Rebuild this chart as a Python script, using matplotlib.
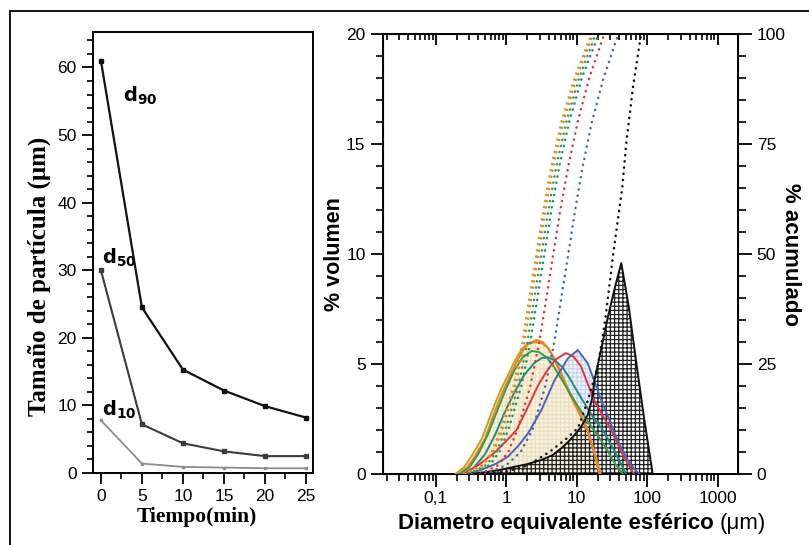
import matplotlib
matplotlib.use("Agg")
import matplotlib.pyplot as plt
from matplotlib.patches import Rectangle
from matplotlib.ticker import FixedLocator, FixedFormatter, MultipleLocator, LogLocator, NullFormatter

plt.rcParams['font.family'] = ['Liberation Sans', 'DejaVu Sans']
plt.rcParams['mathtext.fontset'] = 'custom'
plt.rcParams['mathtext.bf'] = 'DejaVu Sans:bold'
plt.rcParams['mathtext.rm'] = 'DejaVu Sans'
plt.rcParams['hatch.linewidth'] = 0.9

# ---------------- Left panel data ----------------
tiempo = [0, 5, 10, 15, 20, 25]
d90 = [61.0, 24.5, 15.3, 12.2, 9.9, 8.2]
d50 = [30.0, 7.2, 4.4, 3.2, 2.5, 2.5]
d10 = [7.8, 1.4, 0.9, 0.8, 0.7, 0.7]

# ---------------- Right panel data: distributions (% volumen) ----------------
gold_x = [0.19, 0.25, 0.32, 0.45, 0.62, 0.8, 1.06, 1.3, 1.64, 2.0, 2.6, 3.2, 3.9, 5.0, 6.05, 7.5, 9.3, 11.5, 14.4, 17.5, 22]
gold_y = [0, 0.3, 0.8, 1.6, 2.8, 3.7, 4.5, 5.1, 5.65, 5.92, 6.0, 5.95, 5.75, 5.2, 4.6, 3.9, 3.3, 2.7, 2.0, 1.1, 0]
orange_x = [0.21, 0.28, 0.36, 0.5, 0.68, 0.88, 1.15, 1.4, 1.75, 2.1, 2.7, 3.3, 4.0, 5.0, 6.05, 7.5, 9.3, 11.5, 14.4, 17.5, 21]
orange_y = [0, 0.3, 0.8, 1.6, 2.8, 3.7, 4.5, 5.1, 5.65, 5.95, 6.1, 6.0, 5.7, 5.1, 4.5, 3.8, 3.2, 2.6, 1.9, 1.0, 0]
green_x = [0.22, 0.3, 0.4, 0.55, 0.75, 1.0, 1.3, 1.7, 2.3, 2.9, 3.6, 4.5, 5.6, 7.0, 9.0, 11.6, 15, 20, 26, 33, 45]
green_y = [0, 0.3, 0.9, 1.8, 2.9, 3.9, 4.7, 5.3, 5.6, 5.55, 5.35, 5.0, 4.5, 4.0, 3.4, 2.85, 2.3, 1.75, 1.2, 0.6, 0]
teal_x = [0.25, 0.35, 0.5, 0.7, 0.95, 1.3, 1.8, 2.5, 3.2, 4.0, 5.0, 6.3, 8.0, 10, 13, 17, 23.5, 30, 35, 42, 50]
teal_y = [0, 0.3, 0.9, 1.8, 2.8, 3.7, 4.5, 5.05, 5.28, 5.3, 5.15, 4.85, 4.35, 3.8, 3.2, 2.6, 2.0, 1.4, 1.0, 0.5, 0]
red_x = [0.25, 0.4, 0.7, 1.0, 1.4, 2.0, 2.8, 3.8, 5.0, 7.0, 9.0, 11.5, 14, 18, 24, 31, 43, 55, 65]
red_y = [0, 0.4, 1.0, 1.5, 2.0, 3.0, 4.0, 4.7, 5.2, 5.5, 5.35, 4.9, 4.2, 3.3, 2.6, 2.0, 1.0, 0.4, 0]
blue_x = [0.28, 0.45, 0.7, 1.06, 1.5, 2.04, 3.15, 4.86, 7.5, 10.4, 14.4, 18, 22.3, 28, 34.4, 43, 53, 65, 78]
blue_y = [0, 0.2, 0.45, 0.79, 1.3, 1.85, 2.9, 4.27, 5.26, 5.64, 5.03, 4.2, 3.36, 2.6, 1.85, 1.2, 0.64, 0.25, 0]
black_x = [0.29, 0.5, 0.8, 1.32, 2.0, 3.16, 4.5, 6.05, 7.5, 9.3, 11.6, 14.4, 16.5, 18, 22, 28, 35, 43, 55, 70, 90, 120]
black_y = [0, 0.08, 0.18, 0.33, 0.45, 0.64, 0.85, 1.17, 1.45, 1.77, 2.15, 2.7, 3.4, 4.3, 5.6, 7.2, 8.5, 9.6, 7.6, 5.1, 2.6, 0]

# ---------------- Right panel data: cumulative (% acumulado) ----------------
cum_levels = [0, 2, 5, 10, 20, 30, 40, 50, 60, 70, 80, 90, 100]
gold_cx = [0.25, 0.45, 0.62, 0.83, 1.27, 1.7, 2.13, 2.68, 3.36, 4.37, 6.05, 9.25, 16.1]
orange_cx = [0.26, 0.47, 0.66, 0.88, 1.35, 1.81, 2.27, 2.86, 3.59, 4.66, 6.45, 9.9, 17.0]
green_cx = [0.29, 0.52, 0.73, 0.97, 1.49, 2.0, 2.51, 3.15, 3.96, 5.14, 7.1, 10.8, 18.5]
teal_cx = [0.32, 0.58, 0.80, 1.07, 1.64, 2.2, 2.77, 3.48, 4.37, 5.67, 7.8, 11.8, 20.5]
red_cx = [0.43, 0.77, 1.07, 1.44, 2.2, 2.95, 3.71, 4.66, 5.86, 7.6, 10.3, 15.0, 24.5]
blue_cx = [0.5, 1.0, 1.6, 2.35, 3.59, 4.82, 6.05, 7.6, 9.5, 12.2, 16.4, 24.0, 38.8]
black_cx = [0.45, 1.0, 2.06, 4.09, 7.1, 10.5, 14.6, 20.2, 25.4, 33, 44.3, 50.4, 63, 82]
black_cy = [0, 0.5, 2, 5, 8, 10.5, 17, 25, 35, 50, 65, 75, 88, 100]

xtick_vals = [0.1, 1, 10, 100, 1000]
xtick_labels = ['0,1', '1', '10', '100', '1000']

C_GOLD = '#c9a227'
C_ORANGE = '#f07d28'
C_GREEN = '#35a046'
C_TEAL = '#24897c'
C_RED = '#e3343c'
C_BLUE = '#4a64b6'
C_BLACK = '#111111'

fig = plt.figure(figsize=(8.09, 5.45), dpi=100)

# outer frame
fig.patches.append(Rectangle((10 / 809, -0.05), 1.2, 1 - 11 / 545 + 0.05,
                             transform=fig.transFigure, fill=False,
                             edgecolor='black', linewidth=1.3))

# ================= Left panel =================
ax1 = fig.add_axes([0.1146, 0.1321, 0.2727, 0.8086])
ax1.plot(tiempo, d90, color='#111111', lw=1.6, marker='s', ms=2.5)
ax1.plot(tiempo, d50, color='#3c3c3c', lw=1.5, marker='s', ms=2.5)
ax1.plot(tiempo, d10, color='#8c8c8c', lw=1.3, marker='s', ms=2.0)
ax1.set_xlim(-1, 25.9)
ax1.set_ylim(0, 65.2)
ax1.xaxis.set_major_locator(MultipleLocator(5))
ax1.xaxis.set_minor_locator(MultipleLocator(2.5))
ax1.yaxis.set_major_locator(MultipleLocator(10))
ax1.yaxis.set_minor_locator(MultipleLocator(2))
ax1.tick_params(which='major', direction='out', length=8, width=1.3, labelsize=12.5)
ax1.tick_params(which='minor', direction='out', length=4.5, width=1.2)
for s in ax1.spines.values():
    s.set_linewidth(1.4)
ax1.set_ylabel('Tamaño de partícula (μm)', family='Liberation Serif', fontweight='bold',
               fontsize=18, va='center', ha='center')
ax1.yaxis.set_label_coords(-0.243, 0.447)
ax1.set_xlabel('Tiempo(min)', family='Liberation Serif', fontweight='bold',
               fontsize=15.5, va='center', ha='center')
ax1.xaxis.set_label_coords(0.473, -0.10)
ax1.text(2.7, 55.8, r'$\mathbf{d_{90}}$', fontsize=14, va='center', ha='left')
ax1.text(0.1, 31.8, r'$\mathbf{d_{50}}$', fontsize=14, va='center', ha='left')
ax1.text(0.1, 9.4, r'$\mathbf{d_{10}}$', fontsize=14, va='center', ha='left')

# ================= Right panel =================
ax = fig.add_axes([0.4734, 0.1303, 0.4388, 0.8066])
ax.set_xscale('log')
ax.set_xlim(0.0178, 1950)
ax.set_ylim(0, 20)

# hatched fills
ax.fill_between(blue_x, blue_y, 0, facecolor='#f1f4fb', edgecolor='#c9d3ee',
                hatch='++++', linewidth=0, zorder=1)
ax.fill_between(gold_x, gold_y, 0, facecolor='#fbf3df', edgecolor='#ecdcb4',
                hatch='++++', linewidth=0, zorder=1.1, alpha=0.8)
ax.fill_between(black_x, black_y, 0, facecolor='none', edgecolor='#222222',
                hatch='++++', linewidth=0, zorder=1.2)

series = [(gold_x, gold_y, C_GOLD), (orange_x, orange_y, C_ORANGE),
          (green_x, green_y, C_GREEN), (teal_x, teal_y, C_TEAL),
          (red_x, red_y, C_RED), (blue_x, blue_y, C_BLUE),
          (black_x, black_y, C_BLACK)]
for xs, ys, c in series:
    ax.plot(xs, ys, color=c, lw=1.4, zorder=3)

ax.xaxis.set_major_locator(FixedLocator(xtick_vals))
ax.xaxis.set_major_formatter(FixedFormatter(xtick_labels))
ax.xaxis.set_minor_locator(LogLocator(base=10, subs=range(2, 10), numticks=20))
ax.xaxis.set_minor_formatter(NullFormatter())
ax.yaxis.set_major_locator(MultipleLocator(5))
ax.yaxis.set_minor_locator(MultipleLocator(1))
ax.tick_params(which='major', direction='out', length=9, width=1.3, labelsize=12.5)
ax.tick_params(which='minor', direction='out', length=5, width=1.2)
for s in ax.spines.values():
    s.set_linewidth(1.4)

top = ax.secondary_xaxis('top')
top.xaxis.set_major_locator(FixedLocator(xtick_vals))
top.xaxis.set_minor_locator(LogLocator(base=10, subs=range(2, 10), numticks=20))
top.xaxis.set_minor_formatter(NullFormatter())
top.tick_params(which='major', direction='in', length=8, width=1.3, labeltop=False)
top.tick_params(which='minor', direction='in', length=4.5, width=1.2)
top.spines['top'].set_linewidth(1.4)

ax.set_ylabel('% volumen', fontweight='bold', fontsize=15.5, va='center', ha='center')
ax.yaxis.set_label_coords(-0.136, 0.5)
xl = ax.text(0.495, -0.125, 'Diametro equivalente esférico ', transform=ax.transAxes,
             fontweight='bold', fontsize=16, ha='center', va='baseline')
ax.annotate('(μm)', xy=(1, 0), xycoords=xl, fontsize=16, ha='left', va='bottom')

ax2 = ax.twinx()
ax2.set_ylim(0, 100)
cum_series = [(gold_cx, cum_levels, C_GOLD), (orange_cx, cum_levels, C_ORANGE),
              (green_cx, cum_levels, C_GREEN), (teal_cx, cum_levels, C_TEAL),
              (red_cx, cum_levels, C_RED), (blue_cx, cum_levels, C_BLUE),
              (black_cx, black_cy, C_BLACK)]
for xs, ys, c in cum_series:
    ax2.plot(xs, ys, color=c, lw=1.8, linestyle=(0, (0.1, 2.4)),
             dash_capstyle='round', zorder=4)
ax2.yaxis.set_major_locator(MultipleLocator(25))
ax2.yaxis.set_minor_locator(MultipleLocator(5))
ax2.tick_params(which='major', direction='out', length=10, width=1.3, labelsize=12.5)
ax2.tick_params(which='minor', direction='out', length=6, width=1.2)
ax2.set_ylabel('% acumulado', fontweight='bold', fontsize=16, rotation=-90,
               va='center', ha='center')
ax2.yaxis.set_label_coords(1.149, 0.5)
ax2.set_xlim(0.0178, 1950)

fig.savefig('out.png', dpi=100)
